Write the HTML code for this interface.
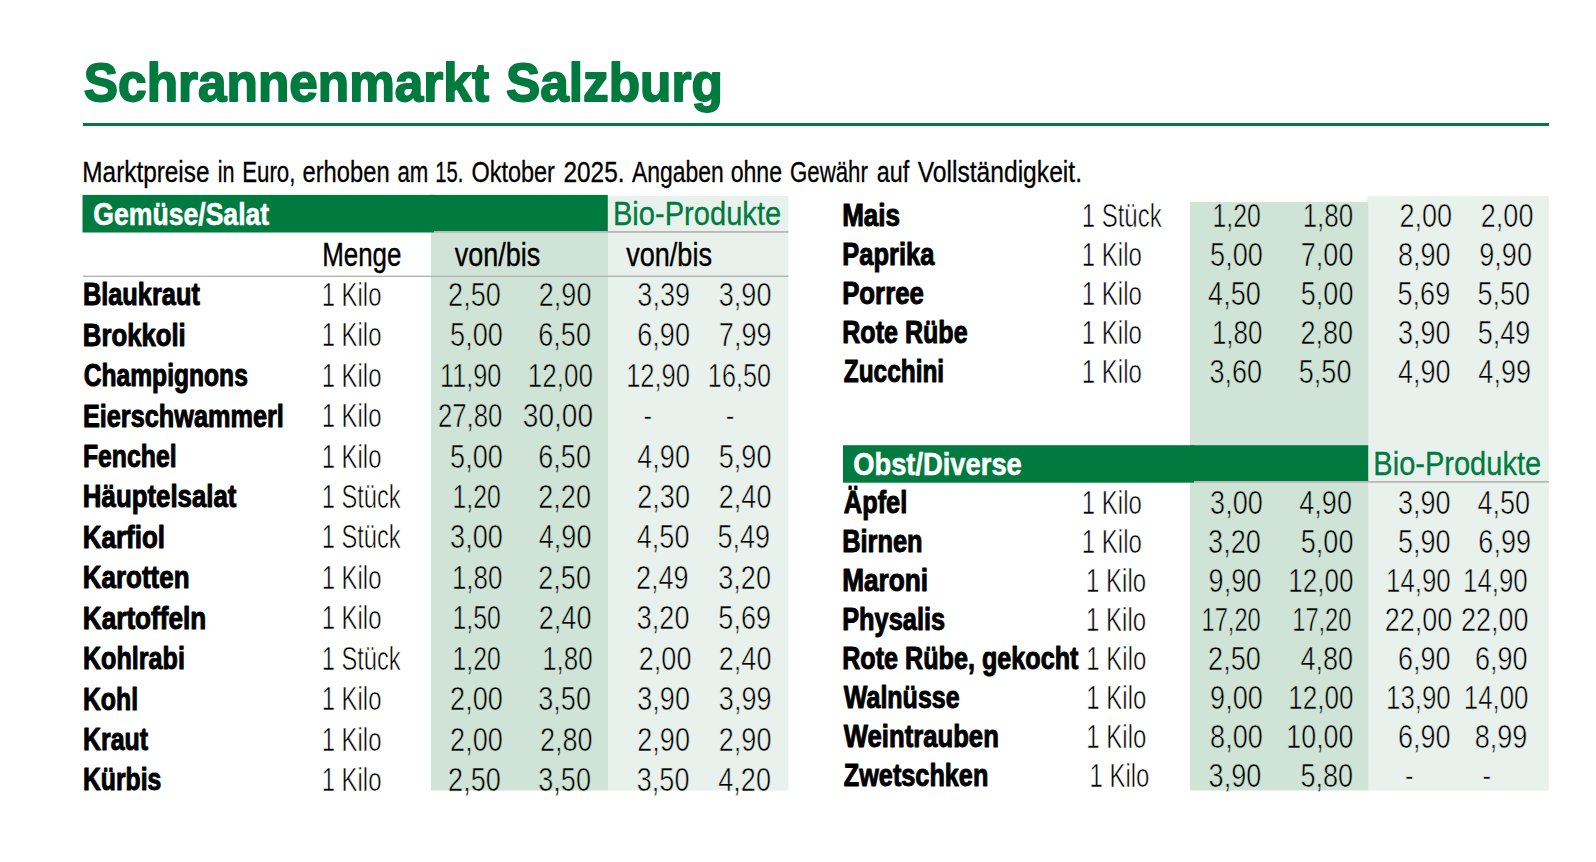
<!DOCTYPE html>
<html lang="de"><head><meta charset="utf-8"><title>Schrannenmarkt Salzburg</title>
<style>
html,body{margin:0;padding:0;background:#fff;overflow:hidden}
svg{display:block}
text{font-family:"Liberation Sans",sans-serif;white-space:pre}
</style></head><body>
<svg width="1596" height="862" viewBox="0 0 1596 862">
<rect x="83" y="123" width="1466" height="3" fill="#007a3e"/>
<rect x="607.3" y="196" width="181.1" height="594.5" fill="#e8f1eb"/>
<rect x="431.0" y="232" width="177.0" height="558.5" fill="#d0e3d7"/>
<rect x="82.5" y="194.9" width="351.5" height="37.6" fill="#007a3e"/>
<rect x="430" y="194.9" width="177.8" height="36.1" fill="#007a3e"/>
<rect x="434" y="231" width="354.4" height="1.8" fill="#bcb6b9"/>
<rect x="82.8" y="275.6" width="705.6" height="1.4" fill="#b4b4b4"/>
<rect x="1367.2" y="196.1" width="181.6" height="594.4" fill="#e8f1eb"/>
<rect x="1190" y="202.1" width="178.2" height="588.4" fill="#d0e3d7"/>
<rect x="843" y="445.2" width="351.2" height="37.5" fill="#007a3e"/>
<rect x="1190" y="445.2" width="178.2" height="35.8" fill="#007a3e"/>
<rect x="1194.2" y="481.0" width="354.6" height="1.8" fill="#bcb6b9"/>
<text transform="translate(83.86,101.30) scale(0.9421,1)" font-size="54.5" font-weight="700" fill="#007a3e" stroke="#007a3e" stroke-width="1.8" stroke-linejoin="round">Schrannenmarkt</text>
<text transform="translate(505.96,101.30) scale(0.9422,1)" font-size="54.5" font-weight="700" fill="#007a3e" stroke="#007a3e" stroke-width="1.8" stroke-linejoin="round">Salzburg</text>
<text transform="translate(82.35,181.75) scale(0.8514,1)" font-size="28.6" font-weight="400" fill="#000" stroke="#000" stroke-width="0.3" stroke-linejoin="round">Marktpreise</text>
<text transform="translate(217.79,181.75) scale(0.7567,1)" font-size="28.6" font-weight="400" fill="#000" stroke="#000" stroke-width="0.3" stroke-linejoin="round">in</text>
<text transform="translate(242.19,181.75) scale(0.7780,1)" font-size="28.6" font-weight="400" fill="#000" stroke="#000" stroke-width="0.3" stroke-linejoin="round">Euro,</text>
<text transform="translate(302.52,181.75) scale(0.8298,1)" font-size="28.6" font-weight="400" fill="#000" stroke="#000" stroke-width="0.3" stroke-linejoin="round">erhoben</text>
<text transform="translate(397.47,181.75) scale(0.7777,1)" font-size="28.6" font-weight="400" fill="#000" stroke="#000" stroke-width="0.3" stroke-linejoin="round">am</text>
<text transform="translate(435.34,181.75) scale(0.7066,1)" font-size="28.6" font-weight="400" fill="#000" stroke="#000" stroke-width="0.3" stroke-linejoin="round">15.</text>
<text transform="translate(471.43,181.75) scale(0.8202,1)" font-size="28.6" font-weight="400" fill="#000" stroke="#000" stroke-width="0.3" stroke-linejoin="round">Oktober</text>
<text transform="translate(563.50,181.75) scale(0.8526,1)" font-size="28.6" font-weight="400" fill="#000" stroke="#000" stroke-width="0.3" stroke-linejoin="round">2025.</text>
<text transform="translate(631.95,181.75) scale(0.8020,1)" font-size="28.6" font-weight="400" fill="#000" stroke="#000" stroke-width="0.3" stroke-linejoin="round">Angaben</text>
<text transform="translate(730.64,181.75) scale(0.8087,1)" font-size="28.6" font-weight="400" fill="#000" stroke="#000" stroke-width="0.3" stroke-linejoin="round">ohne</text>
<text transform="translate(790.07,181.75) scale(0.7771,1)" font-size="28.6" font-weight="400" fill="#000" stroke="#000" stroke-width="0.3" stroke-linejoin="round">Gewähr</text>
<text transform="translate(876.74,181.75) scale(0.8143,1)" font-size="28.6" font-weight="400" fill="#000" stroke="#000" stroke-width="0.3" stroke-linejoin="round">auf</text>
<text transform="translate(917.65,181.75) scale(0.8618,1)" font-size="28.6" font-weight="400" fill="#000" stroke="#000" stroke-width="0.3" stroke-linejoin="round">Vollständigkeit.</text>
<text transform="translate(93.25,224.50) scale(0.8476,1)" font-size="31.4" font-weight="700" fill="#fff" stroke="#fff" stroke-width="0.6" stroke-linejoin="round">Gemüse/Salat</text>
<text transform="translate(612.96,224.65) scale(0.8956,1)" font-size="32.5" font-weight="400" fill="#007a3e" stroke="#007a3e" stroke-width="0.3" stroke-linejoin="round">Bio-Produkte</text>
<text transform="translate(322.20,265.70) scale(0.7998,1)" font-size="32.4" font-weight="400" fill="#000" stroke="#000" stroke-width="0.4" stroke-linejoin="round">Menge</text>
<text transform="translate(454.80,265.70) scale(0.8327,1)" font-size="32.4" font-weight="400" fill="#000" stroke="#000" stroke-width="0.4" stroke-linejoin="round">von/bis</text>
<text transform="translate(626.20,265.70) scale(0.8357,1)" font-size="32.4" font-weight="400" fill="#000" stroke="#000" stroke-width="0.4" stroke-linejoin="round">von/bis</text>
<text transform="translate(82.88,305.30) scale(0.8079,1)" font-size="31.4" font-weight="700" fill="#000" stroke="#000" stroke-width="1.0" stroke-linejoin="round">Blaukraut</text>
<text transform="translate(321.65,305.80) scale(0.7248,1)" font-size="33" font-weight="400" fill="#000" stroke="#fff" stroke-width="0.6">1 Kilo</text>
<text transform="translate(448.12,305.80) scale(0.8200,1)" font-size="33" font-weight="400" fill="#000" stroke="#d0e3d7" stroke-width="0.6">2,50</text>
<text transform="translate(538.82,305.80) scale(0.8200,1)" font-size="33" font-weight="400" fill="#000" stroke="#d0e3d7" stroke-width="0.6">2,90</text>
<text transform="translate(637.34,305.80) scale(0.8200,1)" font-size="33" font-weight="400" fill="#000" stroke="#e8f1eb" stroke-width="0.6">3,39</text>
<text transform="translate(718.82,305.80) scale(0.8200,1)" font-size="33" font-weight="400" fill="#000" stroke="#e8f1eb" stroke-width="0.6">3,90</text>
<text transform="translate(82.86,345.73) scale(0.8189,1)" font-size="31.4" font-weight="700" fill="#000" stroke="#000" stroke-width="1.0" stroke-linejoin="round">Brokkoli</text>
<text transform="translate(321.65,346.23) scale(0.7248,1)" font-size="33" font-weight="400" fill="#000" stroke="#fff" stroke-width="0.6">1 Kilo</text>
<text transform="translate(450.12,346.23) scale(0.8200,1)" font-size="33" font-weight="400" fill="#000" stroke="#d0e3d7" stroke-width="0.6">5,00</text>
<text transform="translate(538.32,346.23) scale(0.8200,1)" font-size="33" font-weight="400" fill="#000" stroke="#d0e3d7" stroke-width="0.6">6,50</text>
<text transform="translate(637.32,346.23) scale(0.8200,1)" font-size="33" font-weight="400" fill="#000" stroke="#e8f1eb" stroke-width="0.6">6,90</text>
<text transform="translate(718.84,346.23) scale(0.8200,1)" font-size="33" font-weight="400" fill="#000" stroke="#e8f1eb" stroke-width="0.6">7,99</text>
<text transform="translate(83.72,386.16) scale(0.7844,1)" font-size="31.4" font-weight="700" fill="#000" stroke="#000" stroke-width="1.0" stroke-linejoin="round">Champignons</text>
<text transform="translate(321.65,386.66) scale(0.7248,1)" font-size="33" font-weight="400" fill="#000" stroke="#fff" stroke-width="0.6">1 Kilo</text>
<text transform="translate(439.97,386.66) scale(0.7650,1)" font-size="33" font-weight="400" fill="#000" stroke="#d0e3d7" stroke-width="0.6">11,90</text>
<text transform="translate(527.82,386.66) scale(0.7890,1)" font-size="33" font-weight="400" fill="#000" stroke="#d0e3d7" stroke-width="0.6">12,00</text>
<text transform="translate(626.15,386.66) scale(0.7728,1)" font-size="33" font-weight="400" fill="#000" stroke="#e8f1eb" stroke-width="0.6">12,90</text>
<text transform="translate(707.87,386.66) scale(0.7641,1)" font-size="33" font-weight="400" fill="#000" stroke="#e8f1eb" stroke-width="0.6">16,50</text>
<text transform="translate(82.89,426.59) scale(0.8056,1)" font-size="31.4" font-weight="700" fill="#000" stroke="#000" stroke-width="1.0" stroke-linejoin="round">Eierschwammerl</text>
<text transform="translate(321.65,427.09) scale(0.7248,1)" font-size="33" font-weight="400" fill="#000" stroke="#fff" stroke-width="0.6">1 Kilo</text>
<text transform="translate(438.02,427.09) scale(0.7793,1)" font-size="33" font-weight="400" fill="#000" stroke="#d0e3d7" stroke-width="0.6">27,80</text>
<text transform="translate(522.85,427.09) scale(0.8495,1)" font-size="33" font-weight="400" fill="#000" stroke="#d0e3d7" stroke-width="0.6">30,00</text>
<text transform="translate(643.52,427.09) scale(0.7778,1)" font-size="33" font-weight="400" fill="#000" stroke="#e8f1eb" stroke-width="0.6">-</text>
<text transform="translate(725.72,427.09) scale(0.7778,1)" font-size="33" font-weight="400" fill="#000" stroke="#e8f1eb" stroke-width="0.6">-</text>
<text transform="translate(82.92,467.02) scale(0.7903,1)" font-size="31.4" font-weight="700" fill="#000" stroke="#000" stroke-width="1.0" stroke-linejoin="round">Fenchel</text>
<text transform="translate(321.65,467.52) scale(0.7248,1)" font-size="33" font-weight="400" fill="#000" stroke="#fff" stroke-width="0.6">1 Kilo</text>
<text transform="translate(450.12,467.52) scale(0.8200,1)" font-size="33" font-weight="400" fill="#000" stroke="#d0e3d7" stroke-width="0.6">5,00</text>
<text transform="translate(538.32,467.52) scale(0.8200,1)" font-size="33" font-weight="400" fill="#000" stroke="#d0e3d7" stroke-width="0.6">6,50</text>
<text transform="translate(637.32,467.52) scale(0.8200,1)" font-size="33" font-weight="400" fill="#000" stroke="#e8f1eb" stroke-width="0.6">4,90</text>
<text transform="translate(718.82,467.52) scale(0.8200,1)" font-size="33" font-weight="400" fill="#000" stroke="#e8f1eb" stroke-width="0.6">5,90</text>
<text transform="translate(82.85,507.45) scale(0.8229,1)" font-size="31.4" font-weight="700" fill="#000" stroke="#000" stroke-width="1.0" stroke-linejoin="round">Häuptelsalat</text>
<text transform="translate(321.66,507.95) scale(0.7185,1)" font-size="33" font-weight="400" fill="#000" stroke="#fff" stroke-width="0.6">1 Stück</text>
<text transform="translate(452.60,507.95) scale(0.7499,1)" font-size="33" font-weight="400" fill="#000" stroke="#d0e3d7" stroke-width="0.6">1,20</text>
<text transform="translate(538.32,507.95) scale(0.8200,1)" font-size="33" font-weight="400" fill="#000" stroke="#d0e3d7" stroke-width="0.6">2,20</text>
<text transform="translate(637.32,507.95) scale(0.8200,1)" font-size="33" font-weight="400" fill="#000" stroke="#e8f1eb" stroke-width="0.6">2,30</text>
<text transform="translate(718.82,507.95) scale(0.8200,1)" font-size="33" font-weight="400" fill="#000" stroke="#e8f1eb" stroke-width="0.6">2,40</text>
<text transform="translate(82.85,547.88) scale(0.8256,1)" font-size="31.4" font-weight="700" fill="#000" stroke="#000" stroke-width="1.0" stroke-linejoin="round">Karfiol</text>
<text transform="translate(321.66,548.38) scale(0.7185,1)" font-size="33" font-weight="400" fill="#000" stroke="#fff" stroke-width="0.6">1 Stück</text>
<text transform="translate(450.12,548.38) scale(0.8200,1)" font-size="33" font-weight="400" fill="#000" stroke="#d0e3d7" stroke-width="0.6">3,00</text>
<text transform="translate(538.82,548.38) scale(0.8200,1)" font-size="33" font-weight="400" fill="#000" stroke="#d0e3d7" stroke-width="0.6">4,90</text>
<text transform="translate(636.82,548.38) scale(0.8200,1)" font-size="33" font-weight="400" fill="#000" stroke="#e8f1eb" stroke-width="0.6">4,50</text>
<text transform="translate(717.44,548.38) scale(0.8200,1)" font-size="33" font-weight="400" fill="#000" stroke="#e8f1eb" stroke-width="0.6">5,49</text>
<text transform="translate(82.85,588.31) scale(0.8262,1)" font-size="31.4" font-weight="700" fill="#000" stroke="#000" stroke-width="1.0" stroke-linejoin="round">Karotten</text>
<text transform="translate(321.65,588.81) scale(0.7248,1)" font-size="33" font-weight="400" fill="#000" stroke="#fff" stroke-width="0.6">1 Kilo</text>
<text transform="translate(451.93,588.81) scale(0.7855,1)" font-size="33" font-weight="400" fill="#000" stroke="#d0e3d7" stroke-width="0.6">1,80</text>
<text transform="translate(538.32,588.81) scale(0.8200,1)" font-size="33" font-weight="400" fill="#000" stroke="#d0e3d7" stroke-width="0.6">2,50</text>
<text transform="translate(635.94,588.81) scale(0.8200,1)" font-size="33" font-weight="400" fill="#000" stroke="#e8f1eb" stroke-width="0.6">2,49</text>
<text transform="translate(718.32,588.81) scale(0.8200,1)" font-size="33" font-weight="400" fill="#000" stroke="#e8f1eb" stroke-width="0.6">3,20</text>
<text transform="translate(82.83,628.74) scale(0.8328,1)" font-size="31.4" font-weight="700" fill="#000" stroke="#000" stroke-width="1.0" stroke-linejoin="round">Kartoffeln</text>
<text transform="translate(321.65,629.24) scale(0.7248,1)" font-size="33" font-weight="400" fill="#000" stroke="#fff" stroke-width="0.6">1 Kilo</text>
<text transform="translate(452.50,629.24) scale(0.7515,1)" font-size="33" font-weight="400" fill="#000" stroke="#d0e3d7" stroke-width="0.6">1,50</text>
<text transform="translate(538.82,629.24) scale(0.8200,1)" font-size="33" font-weight="400" fill="#000" stroke="#d0e3d7" stroke-width="0.6">2,40</text>
<text transform="translate(636.82,629.24) scale(0.8200,1)" font-size="33" font-weight="400" fill="#000" stroke="#e8f1eb" stroke-width="0.6">3,20</text>
<text transform="translate(718.34,629.24) scale(0.8200,1)" font-size="33" font-weight="400" fill="#000" stroke="#e8f1eb" stroke-width="0.6">5,69</text>
<text transform="translate(82.90,669.17) scale(0.8010,1)" font-size="31.4" font-weight="700" fill="#000" stroke="#000" stroke-width="1.0" stroke-linejoin="round">Kohlrabi</text>
<text transform="translate(321.66,669.67) scale(0.7185,1)" font-size="33" font-weight="400" fill="#000" stroke="#fff" stroke-width="0.6">1 Stück</text>
<text transform="translate(452.60,669.67) scale(0.7499,1)" font-size="33" font-weight="400" fill="#000" stroke="#d0e3d7" stroke-width="0.6">1,20</text>
<text transform="translate(542.13,669.67) scale(0.7855,1)" font-size="33" font-weight="400" fill="#000" stroke="#d0e3d7" stroke-width="0.6">1,80</text>
<text transform="translate(638.82,669.67) scale(0.8200,1)" font-size="33" font-weight="400" fill="#000" stroke="#e8f1eb" stroke-width="0.6">2,00</text>
<text transform="translate(718.82,669.67) scale(0.8200,1)" font-size="33" font-weight="400" fill="#000" stroke="#e8f1eb" stroke-width="0.6">2,40</text>
<text transform="translate(82.92,709.60) scale(0.7907,1)" font-size="31.4" font-weight="700" fill="#000" stroke="#000" stroke-width="1.0" stroke-linejoin="round">Kohl</text>
<text transform="translate(321.65,710.10) scale(0.7248,1)" font-size="33" font-weight="400" fill="#000" stroke="#fff" stroke-width="0.6">1 Kilo</text>
<text transform="translate(450.12,710.10) scale(0.8200,1)" font-size="33" font-weight="400" fill="#000" stroke="#d0e3d7" stroke-width="0.6">2,00</text>
<text transform="translate(538.32,710.10) scale(0.8200,1)" font-size="33" font-weight="400" fill="#000" stroke="#d0e3d7" stroke-width="0.6">3,50</text>
<text transform="translate(637.32,710.10) scale(0.8200,1)" font-size="33" font-weight="400" fill="#000" stroke="#e8f1eb" stroke-width="0.6">3,90</text>
<text transform="translate(718.84,710.10) scale(0.8200,1)" font-size="33" font-weight="400" fill="#000" stroke="#e8f1eb" stroke-width="0.6">3,99</text>
<text transform="translate(82.91,750.03) scale(0.7949,1)" font-size="31.4" font-weight="700" fill="#000" stroke="#000" stroke-width="1.0" stroke-linejoin="round">Kraut</text>
<text transform="translate(321.65,750.53) scale(0.7248,1)" font-size="33" font-weight="400" fill="#000" stroke="#fff" stroke-width="0.6">1 Kilo</text>
<text transform="translate(450.12,750.53) scale(0.8200,1)" font-size="33" font-weight="400" fill="#000" stroke="#d0e3d7" stroke-width="0.6">2,00</text>
<text transform="translate(539.92,750.53) scale(0.8200,1)" font-size="33" font-weight="400" fill="#000" stroke="#d0e3d7" stroke-width="0.6">2,80</text>
<text transform="translate(637.32,750.53) scale(0.8200,1)" font-size="33" font-weight="400" fill="#000" stroke="#e8f1eb" stroke-width="0.6">2,90</text>
<text transform="translate(718.82,750.53) scale(0.8200,1)" font-size="33" font-weight="400" fill="#000" stroke="#e8f1eb" stroke-width="0.6">2,90</text>
<text transform="translate(82.92,790.46) scale(0.7890,1)" font-size="31.4" font-weight="700" fill="#000" stroke="#000" stroke-width="1.0" stroke-linejoin="round">Kürbis</text>
<text transform="translate(321.65,790.96) scale(0.7248,1)" font-size="33" font-weight="400" fill="#000" stroke="#fff" stroke-width="0.6">1 Kilo</text>
<text transform="translate(448.12,790.96) scale(0.8200,1)" font-size="33" font-weight="400" fill="#000" stroke="#d0e3d7" stroke-width="0.6">2,50</text>
<text transform="translate(538.32,790.96) scale(0.8200,1)" font-size="33" font-weight="400" fill="#000" stroke="#d0e3d7" stroke-width="0.6">3,50</text>
<text transform="translate(636.82,790.96) scale(0.8200,1)" font-size="33" font-weight="400" fill="#000" stroke="#e8f1eb" stroke-width="0.6">3,50</text>
<text transform="translate(718.32,790.96) scale(0.8200,1)" font-size="33" font-weight="400" fill="#000" stroke="#e8f1eb" stroke-width="0.6">4,20</text>
<text transform="translate(842.14,226.30) scale(0.8303,1)" font-size="31.4" font-weight="700" fill="#000" stroke="#000" stroke-width="1.0" stroke-linejoin="round">Mais</text>
<text transform="translate(1081.64,226.80) scale(0.7278,1)" font-size="33" font-weight="400" fill="#000" stroke="#fff" stroke-width="0.6">1 Stück</text>
<text transform="translate(1212.60,226.80) scale(0.7499,1)" font-size="33" font-weight="400" fill="#000" stroke="#d0e3d7" stroke-width="0.6">1,20</text>
<text transform="translate(1302.63,226.80) scale(0.7855,1)" font-size="33" font-weight="400" fill="#000" stroke="#d0e3d7" stroke-width="0.6">1,80</text>
<text transform="translate(1399.52,226.80) scale(0.8200,1)" font-size="33" font-weight="400" fill="#000" stroke="#e8f1eb" stroke-width="0.6">2,00</text>
<text transform="translate(1480.82,226.80) scale(0.8200,1)" font-size="33" font-weight="400" fill="#000" stroke="#e8f1eb" stroke-width="0.6">2,00</text>
<text transform="translate(842.17,265.30) scale(0.8128,1)" font-size="31.4" font-weight="700" fill="#000" stroke="#000" stroke-width="1.0" stroke-linejoin="round">Paprika</text>
<text transform="translate(1081.85,265.80) scale(0.7273,1)" font-size="33" font-weight="400" fill="#000" stroke="#fff" stroke-width="0.6">1 Kilo</text>
<text transform="translate(1210.12,265.80) scale(0.8200,1)" font-size="33" font-weight="400" fill="#000" stroke="#d0e3d7" stroke-width="0.6">5,00</text>
<text transform="translate(1300.82,265.80) scale(0.8200,1)" font-size="33" font-weight="400" fill="#000" stroke="#d0e3d7" stroke-width="0.6">7,00</text>
<text transform="translate(1398.02,265.80) scale(0.8200,1)" font-size="33" font-weight="400" fill="#000" stroke="#e8f1eb" stroke-width="0.6">8,90</text>
<text transform="translate(1479.32,265.80) scale(0.8200,1)" font-size="33" font-weight="400" fill="#000" stroke="#e8f1eb" stroke-width="0.6">9,90</text>
<text transform="translate(842.16,304.30) scale(0.8216,1)" font-size="31.4" font-weight="700" fill="#000" stroke="#000" stroke-width="1.0" stroke-linejoin="round">Porree</text>
<text transform="translate(1081.85,304.80) scale(0.7273,1)" font-size="33" font-weight="400" fill="#000" stroke="#fff" stroke-width="0.6">1 Kilo</text>
<text transform="translate(1208.12,304.80) scale(0.8200,1)" font-size="33" font-weight="400" fill="#000" stroke="#d0e3d7" stroke-width="0.6">4,50</text>
<text transform="translate(1300.82,304.80) scale(0.8200,1)" font-size="33" font-weight="400" fill="#000" stroke="#d0e3d7" stroke-width="0.6">5,00</text>
<text transform="translate(1397.54,304.80) scale(0.8200,1)" font-size="33" font-weight="400" fill="#000" stroke="#e8f1eb" stroke-width="0.6">5,69</text>
<text transform="translate(1477.52,304.80) scale(0.8200,1)" font-size="33" font-weight="400" fill="#000" stroke="#e8f1eb" stroke-width="0.6">5,50</text>
<text transform="translate(842.20,343.30) scale(0.7994,1)" font-size="31.4" font-weight="700" fill="#000" stroke="#000" stroke-width="1.0" stroke-linejoin="round">Rote Rübe</text>
<text transform="translate(1081.85,343.80) scale(0.7273,1)" font-size="33" font-weight="400" fill="#000" stroke="#fff" stroke-width="0.6">1 Kilo</text>
<text transform="translate(1211.93,343.80) scale(0.7855,1)" font-size="33" font-weight="400" fill="#000" stroke="#d0e3d7" stroke-width="0.6">1,80</text>
<text transform="translate(1300.42,343.80) scale(0.8200,1)" font-size="33" font-weight="400" fill="#000" stroke="#d0e3d7" stroke-width="0.6">2,80</text>
<text transform="translate(1398.02,343.80) scale(0.8200,1)" font-size="33" font-weight="400" fill="#000" stroke="#e8f1eb" stroke-width="0.6">3,90</text>
<text transform="translate(1477.64,343.80) scale(0.8200,1)" font-size="33" font-weight="400" fill="#000" stroke="#e8f1eb" stroke-width="0.6">5,49</text>
<text transform="translate(843.80,382.30) scale(0.7775,1)" font-size="31.4" font-weight="700" fill="#000" stroke="#000" stroke-width="1.0" stroke-linejoin="round">Zucchini</text>
<text transform="translate(1081.85,382.80) scale(0.7273,1)" font-size="33" font-weight="400" fill="#000" stroke="#fff" stroke-width="0.6">1 Kilo</text>
<text transform="translate(1209.42,382.80) scale(0.8200,1)" font-size="33" font-weight="400" fill="#000" stroke="#d0e3d7" stroke-width="0.6">3,60</text>
<text transform="translate(1298.82,382.80) scale(0.8200,1)" font-size="33" font-weight="400" fill="#000" stroke="#d0e3d7" stroke-width="0.6">5,50</text>
<text transform="translate(1398.02,382.80) scale(0.8200,1)" font-size="33" font-weight="400" fill="#000" stroke="#e8f1eb" stroke-width="0.6">4,90</text>
<text transform="translate(1478.34,382.80) scale(0.8200,1)" font-size="33" font-weight="400" fill="#000" stroke="#e8f1eb" stroke-width="0.6">4,99</text>
<text transform="translate(843.80,513.30) scale(0.8091,1)" font-size="31.4" font-weight="700" fill="#000" stroke="#000" stroke-width="1.0" stroke-linejoin="round">Äpfel</text>
<text transform="translate(1081.85,513.80) scale(0.7273,1)" font-size="33" font-weight="400" fill="#000" stroke="#fff" stroke-width="0.6">1 Kilo</text>
<text transform="translate(1210.12,513.80) scale(0.8200,1)" font-size="33" font-weight="400" fill="#000" stroke="#d0e3d7" stroke-width="0.6">3,00</text>
<text transform="translate(1299.32,513.80) scale(0.8200,1)" font-size="33" font-weight="400" fill="#000" stroke="#d0e3d7" stroke-width="0.6">4,90</text>
<text transform="translate(1398.02,513.80) scale(0.8200,1)" font-size="33" font-weight="400" fill="#000" stroke="#e8f1eb" stroke-width="0.6">3,90</text>
<text transform="translate(1477.52,513.80) scale(0.8200,1)" font-size="33" font-weight="400" fill="#000" stroke="#e8f1eb" stroke-width="0.6">4,50</text>
<text transform="translate(842.18,552.30) scale(0.8094,1)" font-size="31.4" font-weight="700" fill="#000" stroke="#000" stroke-width="1.0" stroke-linejoin="round">Birnen</text>
<text transform="translate(1081.85,552.80) scale(0.7273,1)" font-size="33" font-weight="400" fill="#000" stroke="#fff" stroke-width="0.6">1 Kilo</text>
<text transform="translate(1208.12,552.80) scale(0.8200,1)" font-size="33" font-weight="400" fill="#000" stroke="#d0e3d7" stroke-width="0.6">3,20</text>
<text transform="translate(1300.82,552.80) scale(0.8200,1)" font-size="33" font-weight="400" fill="#000" stroke="#d0e3d7" stroke-width="0.6">5,00</text>
<text transform="translate(1398.02,552.80) scale(0.8200,1)" font-size="33" font-weight="400" fill="#000" stroke="#e8f1eb" stroke-width="0.6">5,90</text>
<text transform="translate(1478.34,552.80) scale(0.8200,1)" font-size="33" font-weight="400" fill="#000" stroke="#e8f1eb" stroke-width="0.6">6,99</text>
<text transform="translate(842.13,591.30) scale(0.8359,1)" font-size="31.4" font-weight="700" fill="#000" stroke="#000" stroke-width="1.0" stroke-linejoin="round">Maroni</text>
<text transform="translate(1086.05,591.80) scale(0.7273,1)" font-size="33" font-weight="400" fill="#000" stroke="#fff" stroke-width="0.6">1 Kilo</text>
<text transform="translate(1208.62,591.80) scale(0.8200,1)" font-size="33" font-weight="400" fill="#000" stroke="#d0e3d7" stroke-width="0.6">9,90</text>
<text transform="translate(1288.32,591.80) scale(0.7890,1)" font-size="33" font-weight="400" fill="#000" stroke="#d0e3d7" stroke-width="0.6">12,00</text>
<text transform="translate(1386.03,591.80) scale(0.7828,1)" font-size="33" font-weight="400" fill="#000" stroke="#e8f1eb" stroke-width="0.6">14,90</text>
<text transform="translate(1463.03,591.80) scale(0.7828,1)" font-size="33" font-weight="400" fill="#000" stroke="#e8f1eb" stroke-width="0.6">14,90</text>
<text transform="translate(842.18,630.30) scale(0.8085,1)" font-size="31.4" font-weight="700" fill="#000" stroke="#000" stroke-width="1.0" stroke-linejoin="round">Physalis</text>
<text transform="translate(1086.05,630.80) scale(0.7273,1)" font-size="33" font-weight="400" fill="#000" stroke="#fff" stroke-width="0.6">1 Kilo</text>
<text transform="translate(1201.57,630.80) scale(0.7167,1)" font-size="33" font-weight="400" fill="#000" stroke="#d0e3d7" stroke-width="0.6">17,20</text>
<text transform="translate(1292.27,630.80) scale(0.7167,1)" font-size="33" font-weight="400" fill="#000" stroke="#d0e3d7" stroke-width="0.6">17,20</text>
<text transform="translate(1384.78,630.80) scale(0.8162,1)" font-size="33" font-weight="400" fill="#000" stroke="#e8f1eb" stroke-width="0.6">22,00</text>
<text transform="translate(1461.08,630.80) scale(0.8162,1)" font-size="33" font-weight="400" fill="#000" stroke="#e8f1eb" stroke-width="0.6">22,00</text>
<text transform="translate(842.20,669.30) scale(0.8016,1)" font-size="31.4" font-weight="700" fill="#000" stroke="#000" stroke-width="1.0" stroke-linejoin="round">Rote Rübe, gekocht</text>
<text transform="translate(1086.35,669.80) scale(0.7273,1)" font-size="33" font-weight="400" fill="#000" stroke="#fff" stroke-width="0.6">1 Kilo</text>
<text transform="translate(1208.12,669.80) scale(0.8200,1)" font-size="33" font-weight="400" fill="#000" stroke="#d0e3d7" stroke-width="0.6">2,50</text>
<text transform="translate(1300.42,669.80) scale(0.8200,1)" font-size="33" font-weight="400" fill="#000" stroke="#d0e3d7" stroke-width="0.6">4,80</text>
<text transform="translate(1398.02,669.80) scale(0.8200,1)" font-size="33" font-weight="400" fill="#000" stroke="#e8f1eb" stroke-width="0.6">6,90</text>
<text transform="translate(1475.02,669.80) scale(0.8200,1)" font-size="33" font-weight="400" fill="#000" stroke="#e8f1eb" stroke-width="0.6">6,90</text>
<text transform="translate(843.80,708.30) scale(0.7971,1)" font-size="31.4" font-weight="700" fill="#000" stroke="#000" stroke-width="1.0" stroke-linejoin="round">Walnüsse</text>
<text transform="translate(1086.35,708.80) scale(0.7273,1)" font-size="33" font-weight="400" fill="#000" stroke="#fff" stroke-width="0.6">1 Kilo</text>
<text transform="translate(1210.12,708.80) scale(0.8200,1)" font-size="33" font-weight="400" fill="#000" stroke="#d0e3d7" stroke-width="0.6">9,00</text>
<text transform="translate(1288.32,708.80) scale(0.7890,1)" font-size="33" font-weight="400" fill="#000" stroke="#d0e3d7" stroke-width="0.6">12,00</text>
<text transform="translate(1386.03,708.80) scale(0.7828,1)" font-size="33" font-weight="400" fill="#000" stroke="#e8f1eb" stroke-width="0.6">13,90</text>
<text transform="translate(1463.83,708.80) scale(0.7828,1)" font-size="33" font-weight="400" fill="#000" stroke="#e8f1eb" stroke-width="0.6">14,00</text>
<text transform="translate(843.80,747.30) scale(0.8182,1)" font-size="31.4" font-weight="700" fill="#000" stroke="#000" stroke-width="1.0" stroke-linejoin="round">Weintrauben</text>
<text transform="translate(1086.35,747.80) scale(0.7273,1)" font-size="33" font-weight="400" fill="#000" stroke="#fff" stroke-width="0.6">1 Kilo</text>
<text transform="translate(1210.12,747.80) scale(0.8200,1)" font-size="33" font-weight="400" fill="#000" stroke="#d0e3d7" stroke-width="0.6">8,00</text>
<text transform="translate(1286.27,747.80) scale(0.8139,1)" font-size="33" font-weight="400" fill="#000" stroke="#d0e3d7" stroke-width="0.6">10,00</text>
<text transform="translate(1398.02,747.80) scale(0.8200,1)" font-size="33" font-weight="400" fill="#000" stroke="#e8f1eb" stroke-width="0.6">6,90</text>
<text transform="translate(1474.64,747.80) scale(0.8200,1)" font-size="33" font-weight="400" fill="#000" stroke="#e8f1eb" stroke-width="0.6">8,99</text>
<text transform="translate(843.80,786.30) scale(0.8044,1)" font-size="31.4" font-weight="700" fill="#000" stroke="#000" stroke-width="1.0" stroke-linejoin="round">Zwetschken</text>
<text transform="translate(1089.45,786.80) scale(0.7273,1)" font-size="33" font-weight="400" fill="#000" stroke="#fff" stroke-width="0.6">1 Kilo</text>
<text transform="translate(1208.62,786.80) scale(0.8200,1)" font-size="33" font-weight="400" fill="#000" stroke="#d0e3d7" stroke-width="0.6">3,90</text>
<text transform="translate(1300.42,786.80) scale(0.8200,1)" font-size="33" font-weight="400" fill="#000" stroke="#d0e3d7" stroke-width="0.6">5,80</text>
<text transform="translate(1404.92,786.80) scale(0.7778,1)" font-size="33" font-weight="400" fill="#000" stroke="#e8f1eb" stroke-width="0.6">-</text>
<text transform="translate(1482.62,786.80) scale(0.7778,1)" font-size="33" font-weight="400" fill="#000" stroke="#e8f1eb" stroke-width="0.6">-</text>
<text transform="translate(853.23,474.70) scale(0.8704,1)" font-size="31.4" font-weight="700" fill="#fff" stroke="#fff" stroke-width="0.6" stroke-linejoin="round">Obst/Diverse</text>
<text transform="translate(1373.36,474.85) scale(0.8934,1)" font-size="32.5" font-weight="400" fill="#007a3e" stroke="#007a3e" stroke-width="0.3" stroke-linejoin="round">Bio-Produkte</text>
</svg>
</body></html>
